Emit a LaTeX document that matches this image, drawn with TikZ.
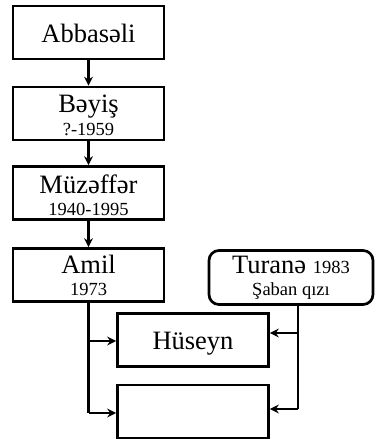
\documentclass[tikz,border=0pt]{standalone}
\usepackage{fontspec}
\setmainfont{Liberation Serif}
\usetikzlibrary{arrows.meta}
\begin{document}
\begin{tikzpicture}[x=1pt,y=-1pt,
  box/.style={draw, line width=2.7pt, minimum width=151pt, minimum height=53pt, inner sep=0pt},
  rbox/.style={draw, line width=2.7pt, rounded corners=10pt, minimum width=164pt, minimum height=54pt, inner sep=0pt},
  big/.style={font=\fontsize{26.5}{28}\selectfont, inner sep=0pt, anchor=base},
  small/.style={font=\fontsize{18.5}{20}\selectfont, inner sep=0pt, anchor=base},
  conn/.style={line width=2.7pt, -{Stealth[length=9pt,width=9pt,inset=3pt]}},
  plain/.style={line width=2.7pt}]
\useasboundingbox (0,0) rectangle (376,439);
% boxes
\node[box] (ab) at (88.5,32.5) {};
\node[box] (be) at (88.5,113.5) {};
\node[box] (mu) at (88.5,193) {};
\node[box] (am) at (88.5,275) {};
\node[rbox] (tu) at (291,277.5) {};
\node[box] (hu) at (193,340) {};
\node[box] (em) at (193,411.5) {};
% texts
\node[big] (tab) at (88.5,42) {Abbasəli};
\node[big] (tbe) at (88.5,112) {Bəyiş};
\node[small] (tbey) at (88.5,135) {?-1959};
\node[big] (tmu) at (88.5,193) {Müzəffər};
\node[small] (tmuy) at (88.5,215) {1940-1995};
\node[big] (tam) at (88.5,273) {Amil};
\node[small] (tamy) at (88.5,295) {1973};
\node[anchor=base, inner sep=0pt] (ttu) at (291,273) {\fontsize{26.5}{28}\selectfont Turanə \fontsize{18.5}{20}\selectfont 1983};
\node[small] (tsa) at (291,295) {Şaban qızı};
\node[big] (thu) at (193,349) {Hüseyn};
% connectors
\draw[conn] (ab.south) -- (be.north);
\draw[conn] (be.south) -- (mu.north);
\draw[conn] (mu.south) -- (am.north);
\coordinate (lj1) at (88.5,341);
\coordinate (lj2) at (88.5,413);
\coordinate (rj1) at (298,333);
\coordinate (rj2) at (298,409);
\draw[plain] (am.south) -- (lj2);
\draw[conn] (lj1) -- (lj1 -| hu.west);
\draw[conn] (lj2) -- (lj2 -| em.west);
\draw[plain] (tu.south -| rj1) -- (rj2);
\draw[conn] (rj1) -- (rj1 -| hu.east);
\draw[conn] (rj2) -- (rj2 -| em.east);
\end{tikzpicture}
\end{document}
